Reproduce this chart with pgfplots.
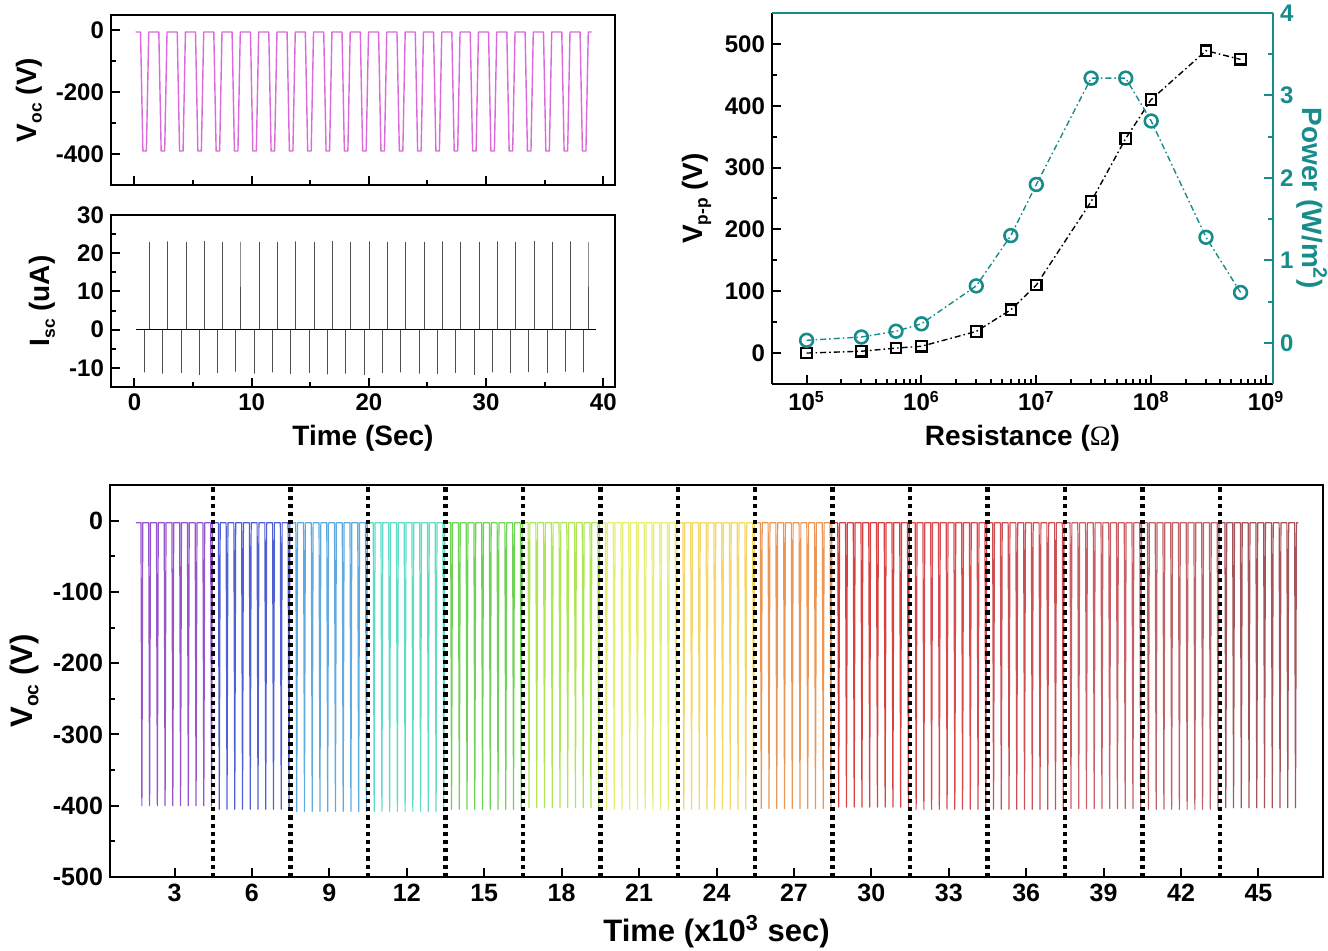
\documentclass[border=0pt]{standalone}
\usepackage{fontspec}
\setmainfont{Liberation Sans}
\newfontfamily\seriffont{Liberation Serif}
\usepackage{graphicx}
\usepackage{pgfplots}
\pgfplotsset{compat=1.18}
\definecolor{tealc}{RGB}{23,140,138}
\definecolor{vocmag}{RGB}{218,105,218}
\definecolor{iscg}{RGB}{80,80,80}
\definecolor{c1}{RGB}{150,85,205}
\definecolor{c2}{RGB}{80,95,210}
\definecolor{c3}{RGB}{95,170,225}
\definecolor{c4}{RGB}{95,220,200}
\definecolor{c5}{RGB}{110,210,85}
\definecolor{c6}{RGB}{175,230,85}
\definecolor{c7}{RGB}{232,238,115}
\definecolor{c8}{RGB}{245,215,105}
\definecolor{c9}{RGB}{235,150,85}
\definecolor{c10}{RGB}{215,65,65}
\definecolor{c11}{RGB}{215,75,80}
\definecolor{c12}{RGB}{205,80,85}
\definecolor{c13}{RGB}{200,95,100}
\definecolor{c14}{RGB}{190,100,105}
\definecolor{c15}{RGB}{165,85,90}
\newcommand{\sub}[1]{\raisebox{-0.35ex}{\scalebox{0.62}{#1}}}
\pgfplotsset{
  myax/.style={scale only axis, tick align=inside,
    axis line style={line width=1.3pt, black},
    tick style={line width=1pt, black},
    major tick length=4.5pt, minor tick length=2.5pt,
    /pgf/number format/assume math mode=true,
    tick label style={font=\fontsize{12}{14}\selectfont\bfseries},
    label style={font=\fontsize{14}{16}\selectfont\bfseries},
  },
  sig/.style={line width=0.6pt, line join=round},
  vdot/.style={black, line width=2.2pt, dash pattern=on 2.1pt off 2pt, forget plot},
}
\begin{document}
\begin{tikzpicture}
\path[use as bounding box] (0,0) rectangle (664pt,-475.5pt);

% ---------- Panel A: Voc vs time ----------
\begin{axis}[myax, tick pos=left, at={(55.5pt,-7.5pt)}, anchor=north west, width=252pt, height=85pt,
  xmin=-2, xmax=41, ymin=-500, ymax=50,
  xtick={0,10,20,30,40}, xticklabels=\empty, minor x tick num=1,
  ytick={-400,-200,0}, minor y tick num=1,
  ylabel={V\sub{oc} (V)}]
\addplot[sig, vocmag, line width=0.7pt] coordinates {
(0.1,-5)
(0.52,-5)(0.72,-390)(1.02,-390)(1.22,-5)
(2.08,-5)(2.28,-390)(2.58,-390)(2.78,-5)
(3.65,-5)(3.85,-390)(4.15,-390)(4.35,-5)
(5.21,-5)(5.41,-390)(5.71,-390)(5.91,-5)
(6.77,-5)(6.97,-390)(7.27,-390)(7.47,-5)
(8.33,-5)(8.53,-390)(8.83,-390)(9.03,-5)
(9.90,-5)(10.10,-390)(10.40,-390)(10.60,-5)
(11.46,-5)(11.66,-390)(11.96,-390)(12.16,-5)
(13.02,-5)(13.22,-390)(13.52,-390)(13.72,-5)
(14.58,-5)(14.78,-390)(15.08,-390)(15.28,-5)
(16.15,-5)(16.35,-390)(16.65,-390)(16.85,-5)
(17.71,-5)(17.91,-390)(18.21,-390)(18.41,-5)
(19.27,-5)(19.47,-390)(19.77,-390)(19.97,-5)
(20.83,-5)(21.03,-390)(21.33,-390)(21.53,-5)
(22.40,-5)(22.60,-390)(22.90,-390)(23.10,-5)
(23.96,-5)(24.16,-390)(24.46,-390)(24.66,-5)
(25.52,-5)(25.72,-390)(26.02,-390)(26.22,-5)
(27.08,-5)(27.28,-390)(27.58,-390)(27.78,-5)
(28.65,-5)(28.85,-390)(29.15,-390)(29.35,-5)
(30.21,-5)(30.41,-390)(30.71,-390)(30.91,-5)
(31.77,-5)(31.97,-390)(32.27,-390)(32.47,-5)
(33.33,-5)(33.53,-390)(33.83,-390)(34.03,-5)
(34.90,-5)(35.10,-390)(35.40,-390)(35.60,-5)
(36.46,-5)(36.66,-390)(36.96,-390)(37.16,-5)
(38.02,-5)(38.22,-390)(38.52,-390)(38.72,-5)
(39.0,-5)};
\end{axis}

% ---------- Panel B: Isc vs time ----------
\begin{axis}[myax, tick pos=left, at={(55.5pt,-107.5pt)}, anchor=north west, width=252pt, height=86pt,
  xmin=-2, xmax=41, ymin=-15, ymax=30,
  xtick={0,10,20,30,40}, minor x tick num=1,
  ytick={-10,0,10,20,30}, minor y tick num=1,
  xlabel={Time (Sec)}, ylabel={I\sub{sc} (uA)}]
\addplot[iscg, line width=0.5pt] coordinates {
(0.1,0)
(0.85,0)(0.85,-11.2)(0.85,0) (1.28,0)(1.28,23.0)(1.28,0)
(2.41,0)(2.41,-11.5)(2.41,0) (2.84,0)(2.84,23.1)(2.84,0)
(3.98,0)(3.98,-11.3)(3.98,0) (4.41,0)(4.41,23.0)(4.41,0)
(5.54,0)(5.54,-11.8)(5.54,0) (5.97,0)(5.97,23.2)(5.97,0)
(7.10,0)(7.10,-11.4)(7.10,0) (7.53,0)(7.53,23.0)(7.53,0)
(8.66,0)(8.66,-11.0)(8.66,0) (9.09,0)(9.09,23.1)(9.09,0)
(10.23,0)(10.23,-11.5)(10.23,0) (10.66,0)(10.66,22.9)(10.66,0)
(11.79,0)(11.79,-11.2)(11.79,0) (12.22,0)(12.22,23.0)(12.22,0)
(13.35,0)(13.35,-11.6)(13.35,0) (13.78,0)(13.78,23.1)(13.78,0)
(14.91,0)(14.91,-11.3)(14.91,0) (15.34,0)(15.34,23.0)(15.34,0)
(16.48,0)(16.48,-11.7)(16.48,0) (16.91,0)(16.91,23.2)(16.91,0)
(18.04,0)(18.04,-11.5)(18.04,0) (18.47,0)(18.47,23.0)(18.47,0)
(19.60,0)(19.60,-11.9)(19.60,0) (20.03,0)(20.03,23.1)(20.03,0)
(21.16,0)(21.16,-11.4)(21.16,0) (21.59,0)(21.59,23.0)(21.59,0)
(22.73,0)(22.73,-11.2)(22.73,0) (23.16,0)(23.16,22.9)(23.16,0)
(24.29,0)(24.29,-11.5)(24.29,0) (24.72,0)(24.72,23.0)(24.72,0)
(25.85,0)(25.85,-11.6)(25.85,0) (26.28,0)(26.28,23.1)(26.28,0)
(27.41,0)(27.41,-11.3)(27.41,0) (27.84,0)(27.84,23.0)(27.84,0)
(28.98,0)(28.98,-11.8)(28.98,0) (29.41,0)(29.41,23.0)(29.41,0)
(30.54,0)(30.54,-11.2)(30.54,0) (30.97,0)(30.97,23.1)(30.97,0)
(32.10,0)(32.10,-11.4)(32.10,0) (32.53,0)(32.53,23.0)(32.53,0)
(33.66,0)(33.66,-11.1)(33.66,0) (34.09,0)(34.09,23.2)(34.09,0)
(35.23,0)(35.23,-11.3)(35.23,0) (35.66,0)(35.66,23.0)(35.66,0)
(36.79,0)(36.79,-11.0)(36.79,0) (37.22,0)(37.22,23.1)(37.22,0)
(38.35,0)(38.35,-11.2)(38.35,0) (38.78,0)(38.78,23.0)(38.78,0)
(39.4,0)};
\addplot[black, line width=0.8pt] coordinates {(0.1,0) (39.4,0)};
\end{axis}

% ---------- Panel C: Vpp and Power vs resistance ----------
\begin{axis}[myax, at={(386pt,-6.5pt)}, anchor=north west, width=250.5pt, height=185.5pt,
  xmode=log, xmin=5e4, xmax=1.15e9, ymin=-50, ymax=550,
  axis x line*=bottom, axis y line*=left,
  ytick={0,100,200,300,400,500}, minor y tick num=1,
  xtick={1e5,1e6,1e7,1e8,1e9},
  xticklabels={10\textsuperscript{5},10\textsuperscript{6},10\textsuperscript{7},10\textsuperscript{8},10\textsuperscript{9}},
  xlabel={Resistance ({\seriffont\mdseries Ω})}, ylabel={V\sub{p-p} (V)}]
\addplot[black, line width=0.7pt, dash pattern=on 3pt off 1.5pt on 0.8pt off 1.5pt,
  mark=square, mark size=2.6pt, mark options={solid, fill=white, line width=1.1pt}] coordinates {
(1e5,0) (3e5,3) (6e5,8) (1e6,11) (3e6,35) (6e6,70) (1e7,110) (3e7,245) (6e7,347) (1e8,410) (3e8,489) (6e8,475)};
\end{axis}
\begin{axis}[myax, at={(386pt,-6.5pt)}, anchor=north west, width=250.5pt, height=185.5pt,
  xmode=log, xmin=5e4, xmax=1.15e9, ymin=-0.5, ymax=4,
  axis x line*=top, axis y line*=right,
  xtick=\empty, ytick={0,1,2,3,4}, minor y tick num=1,
  axis line style={line width=1.3pt, tealc}, tick style={line width=1pt, tealc},
  yticklabel style={text=tealc}, ylabel style={text=tealc, rotate=180},
  ylabel shift=-5pt,
  ylabel={Power (W/m\textsuperscript{2})}]
\addplot[tealc, line width=0.7pt, dash pattern=on 3pt off 1.5pt on 0.8pt off 1.5pt,
  mark=o, mark size=3.2pt, mark options={solid, fill=white, line width=1.3pt}] coordinates {
(1e5,0.03) (3e5,0.07) (6e5,0.14) (1e6,0.23) (3e6,0.69) (6e6,1.30) (1e7,1.92) (3e7,3.21) (6e7,3.21) (1e8,2.69) (3e8,1.28) (6e8,0.61)};
\end{axis}

% ---------- Panel D: long-term Voc ----------
\begin{axis}[myax, tick pos=left, at={(55pt,-242.5pt)}, anchor=north west, width=606.5pt, height=196pt,
  xmin=0.5, xmax=47.5, ymin=-500, ymax=50,
  xtick={3,6,...,45}, ytick={-500,-400,...,0}, minor y tick num=1,
  tick label style={font=\fontsize{12.5}{14}\selectfont\bfseries},
  label style={font=\fontsize{15.5}{17}\selectfont\bfseries},
  xlabel={Time (x10\textsuperscript{3} sec)}, ylabel={V\sub{oc} (V)}]
\addplot[sig, c1] coordinates {(1.5,-3)(1.7,-3)(1.735,-400)(1.77,-3)(2.0,-3)(2.035,-400)(2.07,-3)(2.3,-3)(2.335,-400)(2.37,-3)(2.6,-3)(2.635,-400)(2.67,-3)(2.9,-3)(2.935,-400)(2.97,-3)(3.2,-3)(3.235,-400)(3.27,-3)(3.5,-3)(3.535,-400)(3.57,-3)(3.8,-3)(3.835,-400)(3.87,-3)(4.1,-3)(4.135,-400)(4.17,-3)(4.4,-3)(4.435,-400)(4.47,-3)(4.5,-3)};
\addplot[sig, c2] coordinates {(4.5,-3)(4.7,-3)(4.735,-405)(4.77,-3)(5.0,-3)(5.035,-405)(5.07,-3)(5.3,-3)(5.335,-405)(5.37,-3)(5.6,-3)(5.635,-405)(5.67,-3)(5.9,-3)(5.935,-405)(5.97,-3)(6.2,-3)(6.235,-405)(6.27,-3)(6.5,-3)(6.535,-405)(6.57,-3)(6.8,-3)(6.835,-405)(6.87,-3)(7.1,-3)(7.135,-405)(7.17,-3)(7.4,-3)(7.435,-405)(7.47,-3)(7.5,-3)};
\addplot[sig, c3] coordinates {(7.5,-3)(7.7,-3)(7.735,-408)(7.77,-3)(8.0,-3)(8.035,-408)(8.07,-3)(8.3,-3)(8.335,-408)(8.37,-3)(8.6,-3)(8.635,-408)(8.67,-3)(8.9,-3)(8.935,-408)(8.97,-3)(9.2,-3)(9.235,-408)(9.27,-3)(9.5,-3)(9.535,-408)(9.57,-3)(9.8,-3)(9.835,-408)(9.87,-3)(10.1,-3)(10.135,-408)(10.17,-3)(10.4,-3)(10.435,-408)(10.47,-3)(10.5,-3)};
\addplot[sig, c4] coordinates {(10.5,-3)(10.7,-3)(10.735,-408)(10.77,-3)(11.0,-3)(11.035,-408)(11.07,-3)(11.3,-3)(11.335,-408)(11.37,-3)(11.6,-3)(11.635,-408)(11.67,-3)(11.9,-3)(11.935,-408)(11.97,-3)(12.2,-3)(12.235,-408)(12.27,-3)(12.5,-3)(12.535,-408)(12.57,-3)(12.8,-3)(12.835,-408)(12.87,-3)(13.1,-3)(13.135,-408)(13.17,-3)(13.4,-3)(13.435,-408)(13.47,-3)(13.5,-3)};
\addplot[sig, c5] coordinates {(13.5,-3)(13.7,-3)(13.735,-405)(13.77,-3)(14.0,-3)(14.035,-405)(14.07,-3)(14.3,-3)(14.335,-405)(14.37,-3)(14.6,-3)(14.635,-405)(14.67,-3)(14.9,-3)(14.935,-405)(14.97,-3)(15.2,-3)(15.235,-405)(15.27,-3)(15.5,-3)(15.535,-405)(15.57,-3)(15.8,-3)(15.835,-405)(15.87,-3)(16.1,-3)(16.135,-405)(16.17,-3)(16.4,-3)(16.435,-405)(16.47,-3)(16.5,-3)};
\addplot[sig, c6] coordinates {(16.5,-3)(16.7,-3)(16.735,-403)(16.77,-3)(17.0,-3)(17.035,-403)(17.07,-3)(17.3,-3)(17.335,-403)(17.37,-3)(17.6,-3)(17.635,-403)(17.67,-3)(17.9,-3)(17.935,-403)(17.97,-3)(18.2,-3)(18.235,-403)(18.27,-3)(18.5,-3)(18.535,-403)(18.57,-3)(18.8,-3)(18.835,-403)(18.87,-3)(19.1,-3)(19.135,-403)(19.17,-3)(19.4,-3)(19.435,-403)(19.47,-3)(19.5,-3)};
\addplot[sig, c7] coordinates {(19.5,-3)(19.7,-3)(19.735,-405)(19.77,-3)(20.0,-3)(20.035,-405)(20.07,-3)(20.3,-3)(20.335,-405)(20.37,-3)(20.6,-3)(20.635,-405)(20.67,-3)(20.9,-3)(20.935,-405)(20.97,-3)(21.2,-3)(21.235,-405)(21.27,-3)(21.5,-3)(21.535,-405)(21.57,-3)(21.8,-3)(21.835,-405)(21.87,-3)(22.1,-3)(22.135,-405)(22.17,-3)(22.4,-3)(22.435,-405)(22.47,-3)(22.5,-3)};
\addplot[sig, c8] coordinates {(22.5,-3)(22.7,-3)(22.735,-405)(22.77,-3)(23.0,-3)(23.035,-405)(23.07,-3)(23.3,-3)(23.335,-405)(23.37,-3)(23.6,-3)(23.635,-405)(23.67,-3)(23.9,-3)(23.935,-405)(23.97,-3)(24.2,-3)(24.235,-405)(24.27,-3)(24.5,-3)(24.535,-405)(24.57,-3)(24.8,-3)(24.835,-405)(24.87,-3)(25.1,-3)(25.135,-405)(25.17,-3)(25.4,-3)(25.435,-405)(25.47,-3)(25.5,-3)};
\addplot[sig, c9] coordinates {(25.5,-3)(25.7,-3)(25.735,-404)(25.77,-3)(26.0,-3)(26.035,-404)(26.07,-3)(26.3,-3)(26.335,-404)(26.37,-3)(26.6,-3)(26.635,-404)(26.67,-3)(26.9,-3)(26.935,-404)(26.97,-3)(27.2,-3)(27.235,-404)(27.27,-3)(27.5,-3)(27.535,-404)(27.57,-3)(27.8,-3)(27.835,-404)(27.87,-3)(28.1,-3)(28.135,-404)(28.17,-3)(28.4,-3)(28.435,-404)(28.47,-3)(28.5,-3)};
\addplot[sig, c10] coordinates {(28.5,-3)(28.7,-3)(28.735,-402)(28.77,-3)(29.0,-3)(29.035,-402)(29.07,-3)(29.3,-3)(29.335,-402)(29.37,-3)(29.6,-3)(29.635,-402)(29.67,-3)(29.9,-3)(29.935,-402)(29.97,-3)(30.2,-3)(30.235,-402)(30.27,-3)(30.5,-3)(30.535,-402)(30.57,-3)(30.8,-3)(30.835,-402)(30.87,-3)(31.1,-3)(31.135,-402)(31.17,-3)(31.4,-3)(31.435,-402)(31.47,-3)(31.5,-3)};
\addplot[sig, c11] coordinates {(31.5,-3)(31.7,-3)(31.735,-405)(31.77,-3)(32.0,-3)(32.035,-405)(32.07,-3)(32.3,-3)(32.335,-405)(32.37,-3)(32.6,-3)(32.635,-405)(32.67,-3)(32.9,-3)(32.935,-405)(32.97,-3)(33.2,-3)(33.235,-405)(33.27,-3)(33.5,-3)(33.535,-405)(33.57,-3)(33.8,-3)(33.835,-405)(33.87,-3)(34.1,-3)(34.135,-405)(34.17,-3)(34.4,-3)(34.435,-405)(34.47,-3)(34.5,-3)};
\addplot[sig, c12] coordinates {(34.5,-3)(34.7,-3)(34.735,-405)(34.77,-3)(35.0,-3)(35.035,-405)(35.07,-3)(35.3,-3)(35.335,-405)(35.37,-3)(35.6,-3)(35.635,-405)(35.67,-3)(35.9,-3)(35.935,-405)(35.97,-3)(36.2,-3)(36.235,-405)(36.27,-3)(36.5,-3)(36.535,-405)(36.57,-3)(36.8,-3)(36.835,-405)(36.87,-3)(37.1,-3)(37.135,-405)(37.17,-3)(37.4,-3)(37.435,-405)(37.47,-3)(37.5,-3)};
\addplot[sig, c13] coordinates {(37.5,-3)(37.7,-3)(37.735,-404)(37.77,-3)(38.0,-3)(38.035,-404)(38.07,-3)(38.3,-3)(38.335,-404)(38.37,-3)(38.6,-3)(38.635,-404)(38.67,-3)(38.9,-3)(38.935,-404)(38.97,-3)(39.2,-3)(39.235,-404)(39.27,-3)(39.5,-3)(39.535,-404)(39.57,-3)(39.8,-3)(39.835,-404)(39.87,-3)(40.1,-3)(40.135,-404)(40.17,-3)(40.4,-3)(40.435,-404)(40.47,-3)(40.5,-3)};
\addplot[sig, c14] coordinates {(40.5,-3)(40.7,-3)(40.735,-405)(40.77,-3)(41.0,-3)(41.035,-405)(41.07,-3)(41.3,-3)(41.335,-405)(41.37,-3)(41.6,-3)(41.635,-405)(41.67,-3)(41.9,-3)(41.935,-405)(41.97,-3)(42.2,-3)(42.235,-405)(42.27,-3)(42.5,-3)(42.535,-405)(42.57,-3)(42.8,-3)(42.835,-405)(42.87,-3)(43.1,-3)(43.135,-405)(43.17,-3)(43.4,-3)(43.435,-405)(43.47,-3)(43.5,-3)};
\addplot[sig, c15] coordinates {(43.5,-3)(43.7,-3)(43.735,-403)(43.77,-3)(44.0,-3)(44.035,-403)(44.07,-3)(44.3,-3)(44.335,-403)(44.37,-3)(44.6,-3)(44.635,-403)(44.67,-3)(44.9,-3)(44.935,-403)(44.97,-3)(45.2,-3)(45.235,-403)(45.27,-3)(45.5,-3)(45.535,-403)(45.57,-3)(45.8,-3)(45.835,-403)(45.87,-3)(46.1,-3)(46.135,-403)(46.17,-3)(46.4,-3)(46.435,-403)(46.47,-3)(46.55,-3)};
\addplot[vdot] coordinates {(4.5,-500) (4.5,50)};
\addplot[vdot] coordinates {(7.5,-500) (7.5,50)};
\addplot[vdot] coordinates {(10.5,-500) (10.5,50)};
\addplot[vdot] coordinates {(13.5,-500) (13.5,50)};
\addplot[vdot] coordinates {(16.5,-500) (16.5,50)};
\addplot[vdot] coordinates {(19.5,-500) (19.5,50)};
\addplot[vdot] coordinates {(22.5,-500) (22.5,50)};
\addplot[vdot] coordinates {(25.5,-500) (25.5,50)};
\addplot[vdot] coordinates {(28.5,-500) (28.5,50)};
\addplot[vdot] coordinates {(31.5,-500) (31.5,50)};
\addplot[vdot] coordinates {(34.5,-500) (34.5,50)};
\addplot[vdot] coordinates {(37.5,-500) (37.5,50)};
\addplot[vdot] coordinates {(40.5,-500) (40.5,50)};
\addplot[vdot] coordinates {(43.5,-500) (43.5,50)};
\end{axis}
\end{tikzpicture}
\end{document}
